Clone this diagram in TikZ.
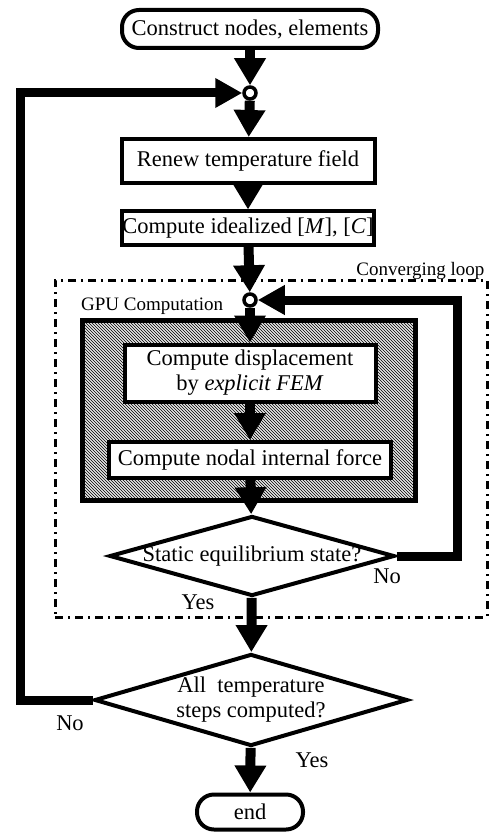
\documentclass[tikz,border=0pt]{standalone}
\usepackage{fontspec}
\setmainfont{Liberation Serif}
\usetikzlibrary{arrows.meta}
\usetikzlibrary{shapes.geometric}
\usetikzlibrary{patterns}
\newcommand{\bigtxt}{\fontsize{22.5}{25}\selectfont}
\newcommand{\smalltxt}{\fontsize{19}{22}\selectfont}

\begin{document}
\begin{tikzpicture}[x=1pt, y=-1pt,
  every node/.style={font=\bigtxt},
  proc/.style={draw, line width=4pt, fill=white, inner sep=0pt, align=center},
  term/.style={proc, rounded corners=17pt},
  decide/.style={draw, diamond, line width=4pt, fill=white, inner sep=0pt},
  junct/.style={draw, circle, line width=3.5pt, fill=white, minimum size=12pt, inner sep=0pt},
  flow/.style={line width=10pt, -{Triangle[width=30pt,length=27pt]}},
  back/.style={line width=9pt, -{Triangle[width=28pt,length=27pt]}},
  note/.style={font=\smalltxt, inner sep=1pt}]
  \useasboundingbox (0,0) rectangle (490,834);

  % outer loop box and gpu box
  \node[draw, line width=3pt, dash pattern=on 8pt off 5pt on 2pt off 5pt,
        minimum width=432pt, minimum height=337pt, inner sep=0pt] (loop) at (271,448.5) {};
  \node[note, anchor=south east] at ([xshift=-3pt,yshift=-2pt]loop.north east) {Converging loop};
  \node[draw, line width=5pt, pattern=north west lines, preaction={fill=gray!20},
        minimum width=333pt, minimum height=180pt, inner sep=0pt] (gpu) at (249,410.5) {};
  \node[note, anchor=south west] at ([yshift=2pt]gpu.north west) {GPU Computation};

  \node[term, minimum width=256pt, minimum height=38pt] (start) at (250,29) {Construct nodes, elements};
  \node[junct] (c1) at (250,93) {};
  \node[proc, minimum width=253pt, minimum height=44pt] (renew) at (248,161) {Renew temperature field};
  \node[proc, minimum width=249pt, minimum height=33pt] (ideal) at (248,228) {Compute idealized [\textit{M}], [\textit{C}]};
  \node[junct] (c2) at (250,300) {};
  \node[proc, minimum width=251pt, minimum height=57pt] (disp) at (250,373)
    {Compute displacement\\by \textit{explicit FEM}};
  \node[proc, minimum width=282pt, minimum height=36pt] (force) at (250,460) {Compute nodal internal force};
  \node[decide, minimum width=285pt, minimum height=80pt,
        label={center:Static equilibrium state?}] (equil) at (252,556) {};
  \node[decide, minimum width=313pt, minimum height=92pt,
        label={[align=center]center:All\ \ temperature\\steps computed?}] (steps) at (251,700) {};
  \node[term, minimum width=106pt, minimum height=35pt] (stop) at (250,812) {end};

  \draw[flow] (start) -- (c1);
  \draw[flow] (c1) -- (renew);
  \draw[flow] (renew) -- (ideal);
  \draw[flow] (ideal) -- (c2);
  \draw[flow] (c2) -- (disp);
  \draw[flow] (disp) -- (force);
  \draw[flow] (force) -- (equil);
  \draw[flow] (equil) -- (steps);
  \draw[flow] (steps) -- (stop);

  \coordinate (rtop) at (457,300);
  \coordinate (ltop) at (20,93);
  \draw[back] (equil.east) -| (rtop) -- (c2);
  \draw[back] (steps.west) -| (ltop) -- (c1);

  \node (no1) at (387,576) {No};
  \node (yes1) at (198,602) {Yes};
  \node (no2) at (70,723) {No};
  \node (yes2) at (312,760) {Yes};
\end{tikzpicture}
\end{document}
